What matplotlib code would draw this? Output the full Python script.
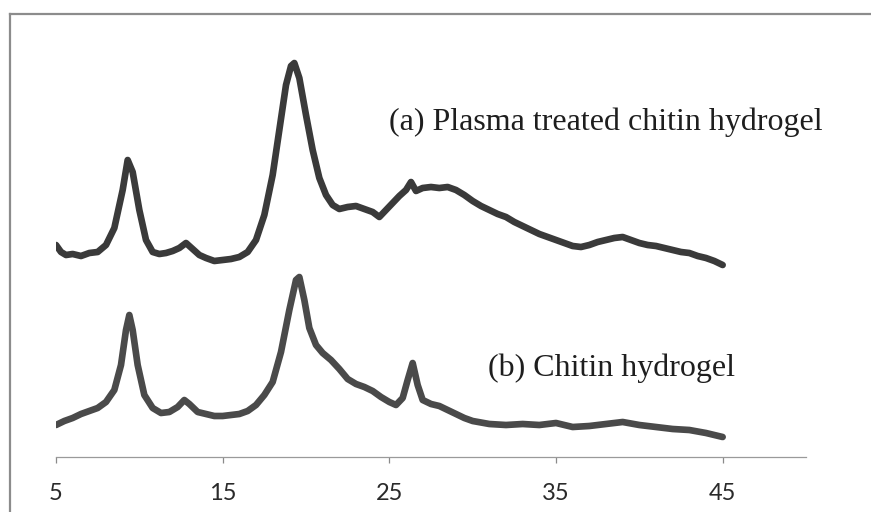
import matplotlib
matplotlib.use("Agg")
import matplotlib.pyplot as plt
from matplotlib.lines import Line2D

# 2-theta positions and intensities (arbitrary units)
two_theta_a = [5.0, 5.3, 5.6, 6.0, 6.5, 7.0, 7.5, 8.0, 8.5, 9.0, 9.3, 9.6, 10.0, 10.4, 10.8,
               11.2, 11.6, 12.0, 12.4, 12.8, 13.2, 13.6, 14.0, 14.5, 15.0, 15.5, 16.0, 16.5,
               17.0, 17.5, 18.0, 18.4, 18.8, 19.1, 19.3, 19.6, 20.0, 20.4, 20.8, 21.2, 21.6,
               22.0, 22.5, 23.0, 23.5, 24.0, 24.4, 24.8, 25.2, 25.6, 26.0, 26.3, 26.6, 27.0,
               27.5, 28.0, 28.5, 29.0, 29.5, 30.0, 30.5, 31.0, 31.5, 32.0, 32.5, 33.0, 33.5,
               34.0, 34.5, 35.0, 35.5, 36.0, 36.5, 37.0, 37.5, 38.0, 38.5, 39.0, 39.5, 40.0,
               40.5, 41.0, 41.5, 42.0, 42.5, 43.0, 43.5, 44.0, 44.5, 45.0]
intensity_a = [212, 205, 202, 203, 201, 204, 205, 212, 229, 267, 297, 285, 247, 217, 205,
               203, 204, 206, 209, 214, 208, 202, 199, 196, 197, 198, 200, 205,
               217, 242, 282, 327, 372, 391, 394, 379, 342, 307, 279, 262, 252,
               248, 250, 251, 248, 245, 240, 247, 254, 261, 267, 275, 266, 269,
               270, 269, 270, 267, 262, 256, 251, 247, 243, 240, 235, 231, 227,
               223, 220, 217, 214, 211, 210, 212, 215, 217, 219, 220, 217, 214,
               212, 211, 209, 207, 205, 204, 201, 199, 196, 192]

two_theta_b = [5.0, 5.5, 6.0, 6.5, 7.0, 7.5, 8.0, 8.5, 8.9, 9.2, 9.4, 9.6, 9.9, 10.3, 10.8,
               11.3, 11.8, 12.3, 12.7, 13.0, 13.5, 14.0, 14.5, 15.0, 15.5, 16.0, 16.5, 17.0,
               17.5, 18.0, 18.5, 19.0, 19.4, 19.6, 19.9, 20.2, 20.6, 21.0, 21.5, 22.0, 22.5,
               23.0, 23.5, 24.0, 24.5, 25.0, 25.4, 25.8, 26.1, 26.4, 26.7, 27.0, 27.5, 28.0,
               28.5, 29.0, 29.5, 30.0, 31.0, 32.0, 33.0, 34.0, 35.0, 36.0, 37.0, 38.0, 39.0,
               40.0, 41.0, 42.0, 43.0, 44.0, 45.0]
intensity_b = [32, 36, 39, 43, 46, 49, 55, 67, 92, 127, 142, 127, 92, 62, 49,
               44, 45, 50, 57, 53, 45, 43, 41, 41, 42, 43, 46, 52,
               62, 75, 105, 147, 177, 180, 157, 129, 112, 104, 97, 88, 78,
               73, 70, 66, 60, 55, 52, 59, 77, 94, 72, 57, 53, 51,
               47, 43, 39, 36, 33, 32, 33, 32, 34, 30, 31, 33, 35,
               32, 30, 28, 27, 24, 20]

x_ticks = [5, 15, 25, 35, 45]
label_a = "(a) Plasma treated chitin hydrogel"
label_b = "(b) Chitin hydrogel"

W, H = 871, 512
fig = plt.figure(figsize=(W / 100, H / 100), dpi=100)
fig.patch.set_facecolor("white")

# axes placement in pixels
left_px, right_px, bottom_px, top_px = 56, 806, 457, 14
ax = fig.add_axes([left_px / W, (H - bottom_px) / H,
                   (right_px - left_px) / W, (bottom_px - top_px) / H])
ax.set_xlim(5, 50)
ax.set_ylim(0, bottom_px - top_px)

ax.plot(two_theta_a, intensity_a, color="#3a3a3a", lw=4.8, solid_joinstyle="round",
        solid_capstyle="round")
ax.plot(two_theta_b, intensity_b, color="#4a4a4a", lw=4.8, solid_joinstyle="round",
        solid_capstyle="round")

for s in ["left", "top", "right"]:
    ax.spines[s].set_visible(False)
ax.spines["bottom"].set_color("#9a9a9a")
ax.spines["bottom"].set_linewidth(0.9)
ax.set_yticks([])
ax.set_xticks(x_ticks)
ax.set_xticklabels([str(t) for t in x_ticks])
ax.tick_params(axis="x", direction="out", length=4.5, width=0.9, color="#8a8a8a",
               pad=14, labelsize=17, labelcolor="#2a2a2a")
for lab in ax.get_xticklabels():
    lab.set_family(["Lato", "DejaVu Sans"])

ax.text(25.0, 335, label_a, family=["Liberation Serif", "DejaVu Serif"], fontsize=23,
        color="#1e1e1e", ha="left", va="center")
ax.text(30.9, 89, label_b, family=["Liberation Serif", "DejaVu Serif"], fontsize=23,
        color="#1e1e1e", ha="left", va="center")

# chart-area border (left and top edges visible)
bx, by = 9.5 / W, 1 - 14 / H
fig.add_artist(Line2D([bx, bx], [0, by], transform=fig.transFigure, color="#8c8c8c", lw=1.6))
fig.add_artist(Line2D([bx, 1], [by, by], transform=fig.transFigure, color="#8c8c8c", lw=1.6))

fig.savefig("out.png", dpi=100, facecolor="white")
